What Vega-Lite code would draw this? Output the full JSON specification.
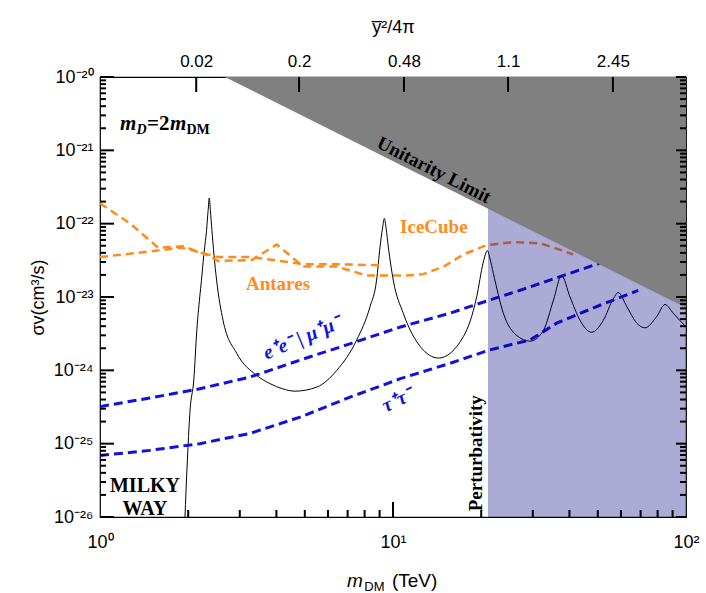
{
  "$schema": "https://vega.github.io/schema/vega-lite/v6.json",
  "width": 586,
  "height": 440,
  "autosize": "none",
  "padding": {"left": 100, "top": 77, "right": 20, "bottom": 76},
  "background": "white",
  "config": {
    "view": {"stroke": "black", "strokeWidth": 1.2},
    "axis": {"domain": false, "grid": false, "ticks": false, "labelFont": "Liberation Sans", "labelFontSize": 17, "labelColor": "black", "titleFont": "Liberation Sans", "titleFontSize": 18, "titleFontWeight": "normal", "titleColor": "black", "labelFlush": false, "labelOverlap": false, "labelBound": false}
  },
  "datasets": {
    "black": [
      {"m":1.95,"v":1.0e-26},{"m":1.98,"v":4.4e-26},{"m":2.03,"v":2.9e-25},{"m":2.09,"v":7.4e-25},{"m":2.14,"v":3.5e-24},{"m":2.19,"v":1.0e-23},{"m":2.22,"v":1.7e-23},{"m":2.26,"v":3.7e-23},{"m":2.31,"v":8.1e-23},{"m":2.34,"v":1.55e-22},{"m":2.36,"v":2.24e-22},{"m":2.38,"v":1.55e-22},{"m":2.41,"v":8.1e-23},{"m":2.45,"v":3.7e-23},{"m":2.5,"v":1.7e-23},{"m":2.63,"v":4.8e-24},{"m":2.93,"v":1.7e-24},{"m":3.43,"v":8.5e-25},{"m":3.8,"v":6.6e-25},{"m":4.2,"v":5.6e-25},{"m":4.63,"v":5.2e-25},{"m":5.49,"v":5.9e-25},{"m":6.43,"v":1.0e-24},{"m":7.52,"v":2.6e-24},{"m":8.35,"v":7.4e-24},{"m":8.79,"v":1.7e-23},{"m":9.03,"v":4.8e-23},{"m":9.21,"v":8.7e-23},{"m":9.34,"v":1.18e-22},{"m":9.47,"v":8.7e-23},{"m":9.64,"v":4.8e-23},{"m":10.02,"v":1.7e-23},{"m":10.84,"v":6.0e-24},{"m":12.4,"v":2.1e-24},{"m":14.3,"v":1.47e-24},{"m":17.4,"v":2.9e-24},{"m":19.3,"v":1.0e-23},{"m":20.3,"v":2.9e-23},{"m":21.0,"v":4.3e-23},{"m":21.4,"v":3.4e-23},{"m":22.0,"v":2.1e-23},{"m":23.8,"v":6.0e-24},{"m":26.4,"v":3.0e-24},{"m":29.4,"v":2.5e-24},{"m":32.6,"v":3.5e-24},{"m":35.3,"v":9.1e-24},{"m":37.6,"v":1.95e-23},{"m":40.2,"v":1.0e-23},{"m":43.5,"v":4.8e-24},{"m":47.6,"v":3.3e-24},{"m":52.2,"v":4.8e-24},{"m":56.5,"v":9.5e-24},{"m":58.7,"v":1.15e-23},{"m":62.8,"v":7.4e-24},{"m":67.9,"v":4.4e-24},{"m":72.4,"v":3.8e-24},{"m":79.4,"v":5.4e-24},{"m":84.8,"v":7.9e-24},{"m":90.5,"v":6.0e-24},{"m":100,"v":3.9e-24}
    ],
    "antares": [
      {"m":1.0,"v":3.5e-23},{"m":1.9,"v":4.7e-23},{"m":2.28,"v":3.9e-23},{"m":2.53,"v":3.5e-23},{"m":3.3,"v":3.5e-23},{"m":4.94,"v":2.8e-23},{"m":6.43,"v":2.8e-23},{"m":9.27,"v":2.7e-23}
    ],
    "icecube": [
      {"m":1.0,"v":1.9e-22},{"m":1.27,"v":1.0e-22},{"m":1.58,"v":4.7e-23},{"m":1.93,"v":4.9e-23},{"m":2.34,"v":3.7e-23},{"m":2.53,"v":3.1e-23},{"m":3.3,"v":3.2e-23},{"m":4.01,"v":5.2e-23},{"m":4.94,"v":2.6e-23},{"m":6.43,"v":2.6e-23},{"m":8.13,"v":1.96e-23},{"m":11.1,"v":1.96e-23},{"m":12.7,"v":2.05e-23},{"m":14.9,"v":2.6e-23},{"m":17.4,"v":3.8e-23},{"m":20.9,"v":5.1e-23},{"m":25.7,"v":5.6e-23},{"m":31.8,"v":5.4e-23},{"m":37.2,"v":4.4e-23},{"m":41.2,"v":3.8e-23}
    ],
    "ee": [
      {"m":1.0,"v":3.2e-25},{"m":1.48,"v":4.2e-25},{"m":2.19,"v":5.6e-25},{"m":3.25,"v":8.1e-25},{"m":4.82,"v":1.38e-24},{"m":7.13,"v":2.3e-24},{"m":10.6,"v":3.9e-24},{"m":15.6,"v":6.0e-24},{"m":21.4,"v":9.1e-24},{"m":27.1,"v":1.23e-23},{"m":37.2,"v":1.9e-23},{"m":50.9,"v":2.9e-23}
    ],
    "tau": [
      {"m":1.0,"v":6.9e-26},{"m":1.48,"v":8.1e-26},{"m":2.19,"v":1.0e-25},{"m":3.25,"v":1.38e-25},{"m":4.82,"v":2.3e-25},{"m":7.13,"v":4.3e-25},{"m":10.6,"v":7.7e-25},{"m":15.6,"v":1.24e-24},{"m":21.4,"v":1.9e-24},{"m":29.4,"v":2.6e-24},{"m":36.2,"v":4.4e-24},{"m":49.5,"v":7.4e-24},{"m":68.7,"v":1.23e-23}
    ],
    "ymaj": [{"v":1e-26},{"v":1e-25},{"v":1e-24},{"v":1e-23},{"v":1e-22},{"v":1e-21},{"v":1e-20}],
    "ymin": [{"v":2e-26},{"v":3e-26},{"v":4e-26},{"v":5e-26},{"v":6e-26},{"v":7e-26},{"v":8e-26},{"v":9e-26},{"v":2e-25},{"v":3e-25},{"v":4e-25},{"v":5e-25},{"v":6e-25},{"v":7e-25},{"v":8e-25},{"v":9e-25},{"v":2e-24},{"v":3e-24},{"v":4e-24},{"v":5e-24},{"v":6e-24},{"v":7e-24},{"v":8e-24},{"v":9e-24},{"v":2e-23},{"v":3e-23},{"v":4e-23},{"v":5e-23},{"v":6e-23},{"v":7e-23},{"v":8e-23},{"v":9e-23},{"v":2e-22},{"v":3e-22},{"v":4e-22},{"v":5e-22},{"v":6e-22},{"v":7e-22},{"v":8e-22},{"v":9e-22},{"v":2e-21},{"v":3e-21},{"v":4e-21},{"v":5e-21},{"v":6e-21},{"v":7e-21},{"v":8e-21},{"v":9e-21}],
    "xmaj": [{"m":10}],
    "xmin": [{"m":2},{"m":3},{"m":4},{"m":5},{"m":6},{"m":7},{"m":8},{"m":9},{"m":20},{"m":30},{"m":40},{"m":50},{"m":60},{"m":70},{"m":80},{"m":90}],
    "xtop": [{"m":2.13},{"m":4.78},{"m":10.9},{"m":24.7},{"m":56.3}]
  },
  "layer": [
    {
      "data": {"name": "black"},
      "mark": {"type": "line", "color": "black", "strokeWidth": 1, "interpolate": "monotone"},
      "encoding": {
        "x": {"field": "m", "type": "quantitative", "scale": {"type": "log", "domain": [1, 100], "nice": false},
          "axis": {"orient": "bottom", "title": null, "values": [1, 10, 100],
            "labelExpr": "datum.value==1?'10⁰':datum.value==10?'10¹':'10²'", "labelPadding": 16, "labelFontSize": 18}},
        "y": {"field": "v", "type": "quantitative", "scale": {"type": "log", "domain": [1e-26, 1e-20], "nice": false},
          "axis": {"orient": "left", "title": "σv(cm³/s)", "titlePadding": 6,
            "values": [1e-26, 1e-25, 1e-24, 1e-23, 1e-22, 1e-21, 1e-20],
            "labelExpr": "datum.value==1e-20?'10⁻²⁰':datum.value==1e-21?'10⁻²¹':datum.value==1e-22?'10⁻²²':datum.value==1e-23?'10⁻²³':datum.value==1e-24?'10⁻²⁴':datum.value==1e-25?'10⁻²⁵':'10⁻²⁶'",
            "labelPadding": 7, "labelFontSize": 18}}
      }
    },
    {
      "data": {"name": "antares"},
      "mark": {"type": "line", "color": "#FF8C1A", "strokeWidth": 2.5, "strokeDash": [8, 5]},
      "encoding": {"x": {"field": "m", "type": "quantitative", "axis": null}, "y": {"field": "v", "type": "quantitative", "axis": null}}
    },
    {
      "data": {"name": "icecube"},
      "mark": {"type": "line", "color": "#FF8C1A", "strokeWidth": 2.5, "strokeDash": [8, 5]},
      "encoding": {
        "x": {"field": "m", "type": "quantitative",
          "axis": {"orient": "top", "title": "y̅²/4π", "titlePadding": 16, "values": [2.13, 4.78, 10.9, 24.7, 56.3],
            "labelExpr": "datum.value<3?'0.02':datum.value<6?'0.2':datum.value<15?'0.48':datum.value<30?'1.1':'2.45'",
            "labelPadding": 7, "labelFontSize": 17}},
        "y": {"field": "v", "type": "quantitative", "axis": null}
      }
    },
    {
      "data": {"name": "ee"},
      "mark": {"type": "line", "color": "#1010E0", "strokeWidth": 3, "strokeDash": [9, 5]},
      "encoding": {"x": {"field": "m", "type": "quantitative", "axis": null}, "y": {"field": "v", "type": "quantitative", "axis": null}}
    },
    {
      "data": {"name": "tau"},
      "mark": {"type": "line", "color": "#1010E0", "strokeWidth": 3, "strokeDash": [9, 5]},
      "encoding": {"x": {"field": "m", "type": "quantitative", "axis": null}, "y": {"field": "v", "type": "quantitative", "axis": null}}
    },
    {
      "data": {"values": [{"m0": 21.1, "m1": 100, "v0": 1e-26, "v1": 1e-20}]},
      "mark": {"type": "rect", "color": "#000080", "opacity": 0.33},
      "encoding": {"x": {"field": "m0", "type": "quantitative", "axis": null}, "x2": {"field": "m1"}, "y": {"field": "v0", "type": "quantitative", "axis": null}, "y2": {"field": "v1"}}
    },
    {
      "data": {"values": [{"m": 2.67, "lo": 1e-20, "hi": 1e-20}, {"m": 100, "lo": 7.13e-24, "hi": 1e-20}]},
      "mark": {"type": "area", "color": "#808080", "opacity": 1},
      "encoding": {"x": {"field": "m", "type": "quantitative", "axis": null}, "y": {"field": "lo", "type": "quantitative", "axis": null}, "y2": {"field": "hi"}}
    },
    {
      "data": {"name": "ymaj"},
      "mark": {"type": "rule", "color": "black", "strokeWidth": 2, "opacity": 1},
      "encoding": {"x": {"datum": 1, "type": "quantitative", "axis": null}, "x2": {"datum": 1.116}, "y": {"field": "v", "type": "quantitative", "axis": null}}
    },
    {
      "data": {"name": "ymin"},
      "mark": {"type": "rule", "color": "black", "strokeWidth": 2, "opacity": 1},
      "encoding": {"x": {"datum": 1, "type": "quantitative", "axis": null}, "x2": {"datum": 1.048}, "y": {"field": "v", "type": "quantitative", "axis": null}}
    },
    {
      "data": {"name": "ymaj"},
      "mark": {"type": "rule", "color": "black", "strokeWidth": 2, "opacity": 1},
      "encoding": {"x": {"datum": 92.4, "type": "quantitative", "axis": null}, "x2": {"datum": 100}, "y": {"field": "v", "type": "quantitative", "axis": null}}
    },
    {
      "data": {"name": "ymin"},
      "mark": {"type": "rule", "color": "black", "strokeWidth": 2, "opacity": 1},
      "encoding": {"x": {"datum": 95.4, "type": "quantitative", "axis": null}, "x2": {"datum": 100}, "y": {"field": "v", "type": "quantitative", "axis": null}}
    },
    {
      "data": {"name": "xmaj"},
      "mark": {"type": "rule", "color": "black", "strokeWidth": 2, "opacity": 1},
      "encoding": {"x": {"field": "m", "type": "quantitative", "axis": null}, "y": {"datum": 1e-26, "type": "quantitative", "axis": null}, "y2": {"datum": 1.6e-26}}
    },
    {
      "data": {"name": "xmin"},
      "mark": {"type": "rule", "color": "black", "strokeWidth": 2, "opacity": 1},
      "encoding": {"x": {"field": "m", "type": "quantitative", "axis": null}, "y": {"datum": 1e-26, "type": "quantitative", "axis": null}, "y2": {"datum": 1.246e-26}}
    },
    {
      "data": {"name": "xtop"},
      "mark": {"type": "rule", "color": "black", "strokeWidth": 2, "opacity": 1},
      "encoding": {"x": {"field": "m", "type": "quantitative", "axis": null}, "y": {"datum": 6.24e-21, "type": "quantitative", "axis": null}, "y2": {"datum": 1e-20}}
    },
    {
      "data": {"values": [{"m": 13.8, "v": 5.4e-22, "t": "Unitarity Limit"}]},
      "mark": {"type": "text", "font": "Liberation Serif", "fontWeight": "bold", "fontSize": 19, "angle": 27, "align": "center", "baseline": "middle", "color": "black"},
      "encoding": {"x": {"field": "m", "type": "quantitative", "axis": null}, "y": {"field": "v", "type": "quantitative", "axis": null}, "text": {"field": "t"}}
    },
    {
      "data": {"values": [{"m": 19.2, "v": 7.4e-26, "t": "Perturbativity"}]},
      "mark": {"type": "text", "font": "Liberation Serif", "fontWeight": "bold", "fontSize": 19, "angle": 270, "align": "center", "baseline": "middle", "color": "black"},
      "encoding": {"x": {"field": "m", "type": "quantitative", "axis": null}, "y": {"field": "v", "type": "quantitative", "axis": null}, "text": {"field": "t"}}
    },
    {
      "data": {"values": [{"m": 1.424, "v": 2.2e-26, "t": "MILKY"}, {"m": 1.424, "v": 1.06e-26, "t": "WAY"}]},
      "mark": {"type": "text", "font": "Liberation Serif", "fontWeight": "bold", "fontSize": 20, "align": "center", "baseline": "alphabetic", "color": "black"},
      "encoding": {"x": {"field": "m", "type": "quantitative", "axis": null}, "y": {"field": "v", "type": "quantitative", "axis": null}, "text": {"field": "t"}}
    },
    {
      "data": {"values": [{"m": 10.57, "v": 7.4e-23, "t": "IceCube"}, {"m": 3.15, "v": 1.24e-23, "t": "Antares"}]},
      "mark": {"type": "text", "font": "Liberation Serif", "fontWeight": "bold", "fontSize": 19, "align": "left", "baseline": "alphabetic", "color": "#FF8C1A"},
      "encoding": {"x": {"field": "m", "type": "quantitative", "axis": null}, "y": {"field": "v", "type": "quantitative", "axis": null}, "text": {"field": "t"}}
    },
    {
      "data": {"values": [{"m": 4.89, "v": 2.75e-24, "t": "e⁺e⁻  |  μ⁺μ⁻"}]},
      "mark": {"type": "text", "font": "Liberation Serif", "fontStyle": "italic", "fontWeight": "bold", "fontSize": 20, "angle": -23, "align": "center", "baseline": "middle", "color": "#1010E0"},
      "encoding": {"x": {"field": "m", "type": "quantitative", "axis": null}, "y": {"field": "v", "type": "quantitative", "axis": null}, "text": {"field": "t"}}
    },
    {
      "data": {"values": [{"m": 10.36, "v": 3.9e-25, "t": "τ⁺τ⁻"}]},
      "mark": {"type": "text", "font": "Liberation Serif", "fontStyle": "italic", "fontWeight": "bold", "fontSize": 20, "angle": -25, "align": "center", "baseline": "middle", "color": "#1010E0"},
      "encoding": {"x": {"field": "m", "type": "quantitative", "axis": null}, "y": {"field": "v", "type": "quantitative", "axis": null}, "text": {"field": "t"}}
    },
    {
      "data": {"values": [{"m": 1.17, "v": 1.89e-21, "t": "m"}, {"m": 1.733, "v": 1.89e-21, "t": "m"}]},
      "mark": {"type": "text", "font": "Liberation Serif", "fontStyle": "italic", "fontWeight": "bold", "fontSize": 21, "align": "left", "baseline": "alphabetic", "color": "black"},
      "encoding": {"x": {"field": "m", "type": "quantitative", "axis": null}, "y": {"field": "v", "type": "quantitative", "axis": null}, "text": {"field": "t"}}
    },
    {
      "data": {"values": [{"m": 1.447, "v": 1.89e-21, "t": "=2"}]},
      "mark": {"type": "text", "font": "Liberation Serif", "fontWeight": "bold", "fontSize": 21, "align": "left", "baseline": "alphabetic", "color": "black"},
      "encoding": {"x": {"field": "m", "type": "quantitative", "axis": null}, "y": {"field": "v", "type": "quantitative", "axis": null}, "text": {"field": "t"}}
    },
    {
      "data": {"values": [{"m": 1.332, "v": 1.67e-21, "t": "D"}]},
      "mark": {"type": "text", "font": "Liberation Serif", "fontStyle": "italic", "fontWeight": "bold", "fontSize": 14, "align": "left", "baseline": "alphabetic", "color": "black"},
      "encoding": {"x": {"field": "m", "type": "quantitative", "axis": null}, "y": {"field": "v", "type": "quantitative", "axis": null}, "text": {"field": "t"}}
    },
    {
      "data": {"values": [{"m": 1.973, "v": 1.67e-21, "t": "DM"}]},
      "mark": {"type": "text", "font": "Liberation Serif", "fontWeight": "bold", "fontSize": 14, "align": "left", "baseline": "alphabetic", "color": "black"},
      "encoding": {"x": {"field": "m", "type": "quantitative", "axis": null}, "y": {"field": "v", "type": "quantitative", "axis": null}, "text": {"field": "t"}}
    },
    {
      "data": {"values": [{"m": 6.97, "v": 1.1e-27, "t": "m"}]},
      "mark": {"type": "text", "font": "Liberation Sans", "fontStyle": "italic", "fontSize": 19, "align": "left", "baseline": "alphabetic", "color": "black"},
      "encoding": {"x": {"field": "m", "type": "quantitative", "axis": null}, "y": {"field": "v", "type": "quantitative", "axis": null}, "text": {"field": "t"}}
    },
    {
      "data": {"values": [{"m": 7.98, "v": 9.8e-28, "t": "DM"}]},
      "mark": {"type": "text", "font": "Liberation Sans", "fontSize": 13, "align": "left", "baseline": "alphabetic", "color": "black"},
      "encoding": {"x": {"field": "m", "type": "quantitative", "axis": null}, "y": {"field": "v", "type": "quantitative", "axis": null}, "text": {"field": "t"}}
    },
    {
      "data": {"values": [{"m": 9.92, "v": 1.1e-27, "t": "(TeV)"}]},
      "mark": {"type": "text", "font": "Liberation Sans", "fontSize": 19, "align": "left", "baseline": "alphabetic", "color": "black"},
      "encoding": {"x": {"field": "m", "type": "quantitative", "axis": null}, "y": {"field": "v", "type": "quantitative", "axis": null}, "text": {"field": "t"}}
    }
  ],
  "resolve": {"axis": {"x": "independent", "y": "independent"}}
}
